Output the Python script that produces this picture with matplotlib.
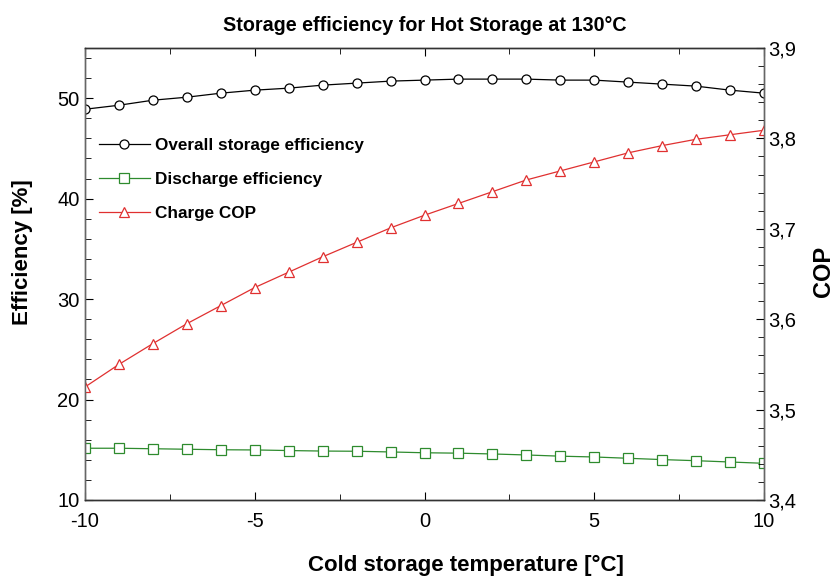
import matplotlib.pyplot as plt
import numpy as np
from matplotlib.ticker import MultipleLocator, FuncFormatter

plt.rcParams['font.family'] = ['Liberation Sans', 'DejaVu Sans']
plt.rcParams['axes.unicode_minus'] = False

# temperatura do armazenamento frio [°C]
temp_fria = np.arange(-10, 11)

eficiencia_total = [48.9, 49.3, 49.8, 50.1, 50.5, 50.8, 51.0, 51.3, 51.5, 51.7, 51.8,
                    51.9, 51.9, 51.9, 51.8, 51.8, 51.6, 51.4, 51.2, 50.8, 50.5]
eficiencia_descarga = [15.15, 15.15, 15.1, 15.05, 15.0, 14.98, 14.92, 14.87, 14.85, 14.78, 14.7,
                       14.66, 14.58, 14.48, 14.36, 14.28, 14.15, 14.02, 13.91, 13.78, 13.65]
cop_carga = [3.525, 3.550, 3.573, 3.595, 3.615, 3.635, 3.652, 3.669, 3.685, 3.701, 3.715,
             3.728, 3.741, 3.754, 3.764, 3.774, 3.784, 3.792, 3.799, 3.804, 3.809]

fig = plt.figure(figsize=(8.36, 5.78), dpi=100)
ax = fig.add_axes([0.1017, 0.135, 0.8122, 0.782])
ax2 = ax.twinx()

l1, = ax.plot(temp_fria, eficiencia_total, color='black', lw=0.9, marker='o',
              ms=6.5, mfc='white', mec='black', mew=0.9, label='Overall storage efficiency')
l2, = ax.plot(temp_fria, eficiencia_descarga, color='#2e8b2e', lw=0.9, marker='s',
              ms=6.5, mfc='white', mec='#2e8b2e', mew=0.9, label='Discharge efficiency')
l3, = ax2.plot(temp_fria, cop_carga, color='#e03030', lw=0.9, marker='^',
               ms=6.5, mfc='white', mec='#e03030', mew=0.9, label='Charge COP')

ax.set_xlim(-10, 10)
ax.set_ylim(10, 55)
ax2.set_ylim(3.4, 3.9)

ax.xaxis.set_major_locator(MultipleLocator(5))
ax.xaxis.set_minor_locator(MultipleLocator(2.5))
ax.yaxis.set_major_locator(MultipleLocator(10))
ax.yaxis.set_minor_locator(MultipleLocator(2))
ax2.yaxis.set_major_locator(MultipleLocator(0.1))
ax2.yaxis.set_minor_locator(MultipleLocator(0.02))
ax2.yaxis.set_major_formatter(FuncFormatter(lambda v, p: f'{v:.1f}'.replace('.', ',')))

ax.tick_params(axis='x', which='both', direction='in', top=True, labelsize=14.5, pad=9)
ax.tick_params(axis='x', which='major', length=6)
ax.tick_params(axis='x', which='minor', length=4)
ax.tick_params(axis='y', which='both', direction='in', labelsize=14.5, pad=4)
ax.tick_params(axis='y', which='major', length=6)
ax.tick_params(axis='y', which='minor', length=4)
ax2.tick_params(axis='y', which='both', direction='in', labelsize=14.5, pad=3)
ax2.tick_params(axis='y', which='major', length=6)
ax2.tick_params(axis='y', which='minor', length=4)

for a in (ax, ax2):
    a.spines['left'].set_color('#666666')
    a.spines['right'].set_color('#666666')
    a.spines['top'].set_color('#333333')
    a.spines['bottom'].set_color('#333333')
    for s in a.spines.values():
        s.set_linewidth(1.0)

ax.set_xlabel('Cold storage temperature [°C]', fontsize=16, fontweight='bold')
ax.xaxis.set_label_coords(0.561, -0.122)
ax.set_ylabel('Efficiency [%]', fontsize=16, fontweight='bold')
ax.yaxis.set_label_coords(-0.077, 0.549)
ax2.set_ylabel('COP', fontsize=17, fontweight='bold')
ax2.yaxis.set_label_coords(1.071, 0.505)
ax.set_title('Storage efficiency for Hot Storage at 130°C', fontsize=14.2, fontweight='bold', pad=12)

ax2.legend(handles=[l1, l2, l3], loc='upper left', bbox_to_anchor=(0.01, 0.815),
           frameon=False, prop={'weight': 'bold', 'size': 12.3},
           handlelength=3.0, handletextpad=0.3, labelspacing=1.1, borderaxespad=0)

fig.savefig('out.png', dpi=100)
